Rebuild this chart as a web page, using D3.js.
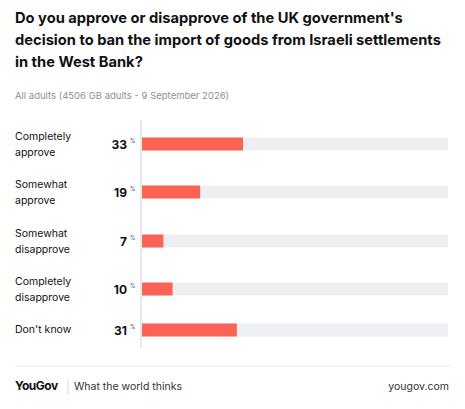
<!DOCTYPE html><html><head><meta charset="utf-8"><script src="https://cdn.jsdelivr.net/npm/d3@7"></script>
<style>body{margin:0;background:#fff;font-family:Inter,"Noto Sans",sans-serif}</style></head><body><svg id="c" width="465" height="409"></svg>
<script>
const categories=[["Completely","approve"],["Somewhat","approve"],["Somewhat","disapprove"],["Completely","disapprove"],["Don't know"]];
const values=[33,19,7,10,31];
const titleLines=["Do you approve or disapprove of the UK government's","decision to ban the import of goods from Israeli settlements","in the West Bank?"];
const svg=d3.select("#c");
svg.selectAll("text.t").data(titleLines).join("text").attr("x",15).attr("y",(d,i)=>23+i*22).attr("font-size",14.7).attr("font-weight",700).attr("fill","#111").text(d=>d);
svg.append("text").attr("x",15).attr("y",99).attr("font-size",9.5).attr("fill","#8a8f99").text("All adults (4506 GB adults - 9 September 2026)");
const x=d3.scaleLinear().domain([0,100]).range([142,448]);
const ys=[144,192,241,289,330];
svg.append("line").attr("x1",141).attr("x2",141).attr("y1",120).attr("y2",348).attr("stroke","#dfe1e6").attr("stroke-width",1.5);
const g=svg.selectAll("g.r").data(values).join("g");
g.append("rect").attr("x",x(0)).attr("width",x(100)-x(0)).attr("y",(d,i)=>ys[i]-6.5).attr("height",13).attr("fill","#eeeff3");
g.append("rect").attr("x",x(0)).attr("width",d=>x(d)-x(0)).attr("y",(d,i)=>ys[i]-6.5).attr("height",13).attr("fill","#fb6357");
g.append("text").attr("x",127).attr("y",(d,i)=>ys[i]+4.5).attr("text-anchor","end").attr("font-size",12).attr("font-weight",700).attr("fill","#111").text(d=>d);
g.append("text").attr("x",130).attr("y",(d,i)=>ys[i]-1).attr("font-size",5.5).attr("fill","#444").text("%");
g.each(function(d,i){const L=categories[i];const t=d3.select(this).append("text").attr("font-size",10.5).attr("fill","#111");
 L.forEach((s,j)=>t.append("tspan").attr("x",15).attr("y",ys[i]+(L.length==1?3:-4+j*16)).text(s));});
svg.append("line").attr("x1",15).attr("x2",450).attr("y1",366).attr("y2",366).attr("stroke","#e4e5e8");
svg.append("text").attr("x",15).attr("y",390).attr("font-size",12).attr("font-weight",700).attr("letter-spacing",-0.5).attr("fill","#111").text("YouGov");
svg.append("line").attr("x1",68).attr("x2",68).attr("y1",378).attr("y2",395).attr("stroke","#ddd");
svg.append("text").attr("x",74).attr("y",390).attr("font-size",10.5).attr("fill","#333").text("What the world thinks");
svg.append("text").attr("x",449).attr("y",390).attr("text-anchor","end").attr("font-size",10.5).attr("fill","#333").text("yougov.com");
</script></body></html>
